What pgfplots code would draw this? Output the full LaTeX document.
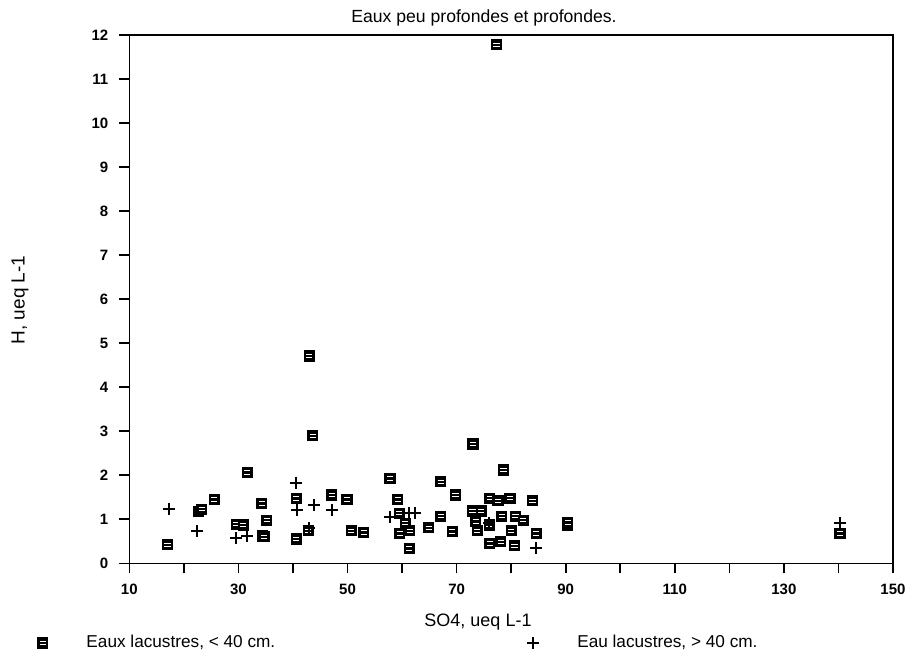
\documentclass[border=0pt]{standalone}
\usepackage{fontspec}
\setmainfont{Liberation Sans}
\usepackage{pgfplots}
\pgfplotsset{compat=1.18}

% filled box with two white bars, as in the scanned chart
\pgfdeclareplotmark{boxeq}{%
  \pgfpathrectangle{\pgfqpoint{-\pgfplotmarksize}{-\pgfplotmarksize}}{\pgfqpoint{2\pgfplotmarksize}{2\pgfplotmarksize}}%
  \pgfusepathqfill
  \pgfsetstrokecolor{white}%
  \pgfsetlinewidth{0.45pt}%
  \pgfpathmoveto{\pgfqpoint{-0.55\pgfplotmarksize}{0.3\pgfplotmarksize}}%
  \pgfpathlineto{\pgfqpoint{0.55\pgfplotmarksize}{0.3\pgfplotmarksize}}%
  \pgfpathmoveto{\pgfqpoint{-0.55\pgfplotmarksize}{-0.3\pgfplotmarksize}}%
  \pgfpathlineto{\pgfqpoint{0.55\pgfplotmarksize}{-0.3\pgfplotmarksize}}%
  \pgfusepathqstroke
}

\begin{document}
\begin{tikzpicture}
\path[use as bounding box] (0,0) rectangle (455pt,327pt);
\begin{axis}[
  scale only axis,
  at={(64.65pt,45.35pt)}, anchor=south west,
  width=381.85pt, height=264.15pt,
  xmin=10, xmax=150, ymin=0, ymax=12,
  xtick={10,20,...,150},
  xticklabels={10,,30,,50,,70,,90,,110,,130,,150},
  ytick={0,1,...,12},
  xtick pos=left, ytick pos=left,
  tick align=outside, major tick length=5pt,
  axis line style={line width=0.8pt},
  every tick/.style={black, line width=0.8pt},
  /pgf/number format/assume math mode=true,
  tick label style={font=\bfseries\fontsize{7.5}{9}\selectfont},
  yticklabel style={xshift=-2pt},
  xticklabel style={yshift=-2pt},
  clip=false,
  legend columns=2,
  legend style={at={(axis description cs:-0.121,-0.1509)}, anchor=west,
    draw=none, fill=none, inner sep=0pt,
    font=\fontsize{8.6}{10}\selectfont,
    /tikz/every odd column/.append style={column sep=17pt},
    /tikz/every even column/.append style={column sep=124pt}},
]
\addplot[only marks, mark=boxeq, mark size=2.8pt, color=black] coordinates {
 (17.0,0.42) (22.7,1.17) (23.3,1.23) (25.6,1.45) (31.6,2.06) (29.6,0.89)
 (30.9,0.87) (34.3,1.36) (35.2,0.98) (34.4,0.62) (34.7,0.60) (40.6,0.55)
 (40.6,1.47) (42.8,0.74) (43.0,4.71) (43.6,2.90) (47.1,1.55) (49.9,1.45)
 (50.7,0.74) (53.0,0.70) (57.8,1.93) (59.2,1.45) (59.5,1.14) (60.6,0.91)
 (59.6,0.68) (61.4,0.74) (61.3,0.34) (64.9,0.81) (67.1,1.85) (67.1,1.07)
 (69.8,1.55) (69.2,0.72) (73.0,2.71) (72.9,1.19) (74.5,1.19) (73.5,0.95)
 (73.8,0.74) (76.0,0.87) (76.1,0.45) (76.1,1.48) (77.6,1.42) (78.6,2.12)
 (78.3,1.07) (78.1,0.49) (79.8,1.48) (80.0,0.74) (80.6,0.40) (80.8,1.07)
 (82.2,0.98) (83.9,1.42) (84.6,0.68) (90.4,0.85) (90.4,0.93) (77.3,11.78)
 (140.3,0.68)
};
\addlegendentry{Eaux lacustres, < 40 cm.}
\addplot[only marks, mark=+, mark size=3pt, line width=1pt, color=black] coordinates {
 (17.2,1.23) (22.5,0.73) (29.6,0.57) (31.6,0.61) (40.6,1.83) (40.7,1.21)
 (43.0,0.80) (43.8,1.32) (47.1,1.21) (57.7,1.05) (61.3,1.15) (62.3,1.15)
 (76.0,0.92) (84.6,0.34) (140.3,0.91)
};
\addlegendentry{Eau lacustres, > 40 cm.}
\end{axis}
\node[font=\fontsize{8.8}{10}\selectfont] at (242pt,318pt) {Eaux peu profondes et profondes.};
\node[font=\fontsize{9}{11}\selectfont] at (239pt,16pt) {SO4, ueq L-1};
\node[font=\fontsize{9.5}{11}\selectfont, rotate=90] at (10pt,177pt) {H, ueq L-1};
\end{tikzpicture}
\end{document}
